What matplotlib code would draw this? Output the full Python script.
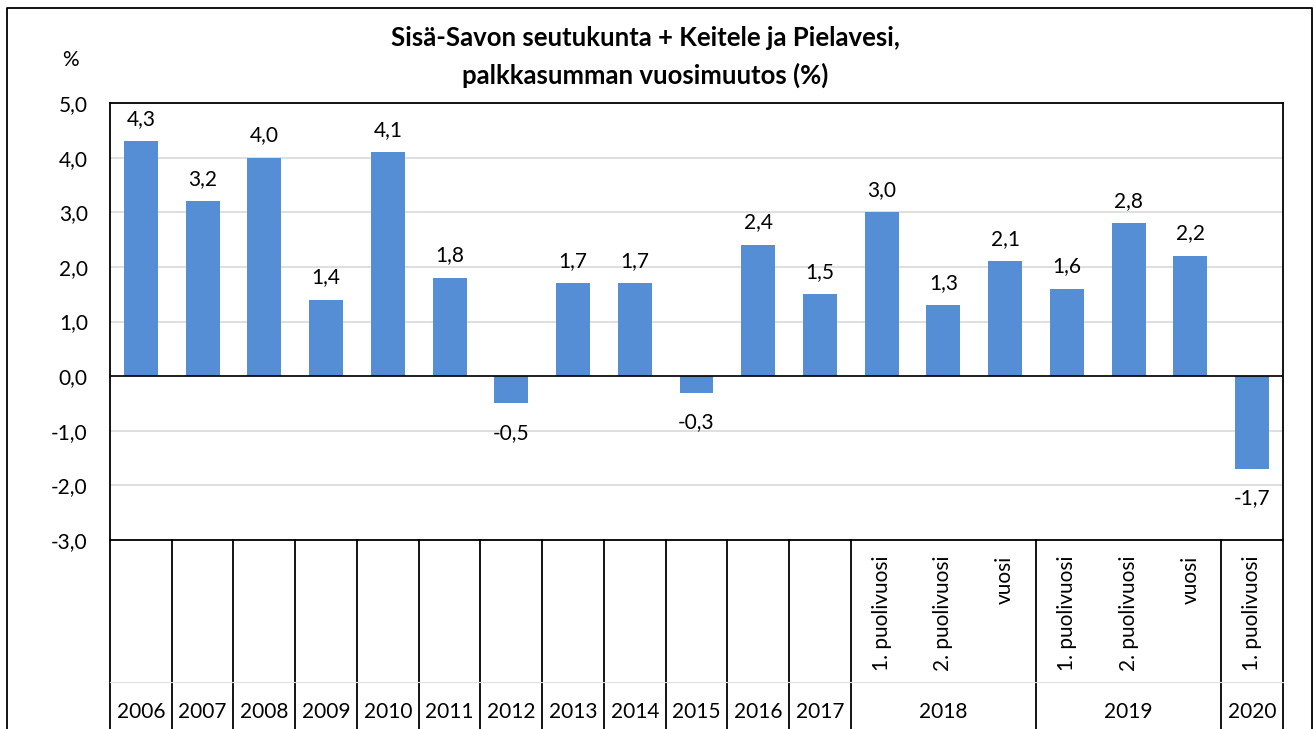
import matplotlib.pyplot as plt
import matplotlib.transforms as mtransforms
from matplotlib.lines import Line2D

plt.rcParams['font.family'] = ['Lato', 'DejaVu Sans']

# Data
vuodet = ['2006', '2007', '2008', '2009', '2010', '2011', '2012', '2013',
          '2014', '2015', '2016', '2017']
ryhmat = [('2018', ['1. puolivuosi', '2. puolivuosi', 'vuosi']),
          ('2019', ['1. puolivuosi', '2. puolivuosi', 'vuosi']),
          ('2020', ['1. puolivuosi'])]
arvot = [4.3, 3.2, 4.0, 1.4, 4.1, 1.8, -0.5, 1.7, 1.7, -0.3, 2.4, 1.5,
         3.0, 1.3, 2.1, 1.6, 2.8, 2.2, -1.7]
y_ticks = [5, 4, 3, 2, 1, 0, -1, -2, -3]

W, H = 1314, 729
fig = plt.figure(figsize=(W / 100, H / 100), dpi=100)

def fx(px):
    return px / W

def fy(py):
    return 1 - py / H

fs = 15
left, right, top, bottom = 110, 1283, 103, 540
ax = fig.add_axes([fx(left), fy(bottom), fx(right - left), (bottom - top) / H])

n = len(arvot)
x = list(range(n))
ax.bar(x, arvot, width=0.55, color='#558ED5', zorder=3)
ax.set_xlim(-0.5, n - 0.5)
ax.set_ylim(-3, 5)
ax.set_yticks(y_ticks)
ax.set_yticklabels([f'{v:.1f}'.replace('.', ',') for v in y_ticks], fontsize=fs)
ax.tick_params(axis='y', length=0, pad=16)
ax.set_xticks([])
ax.grid(axis='y', color='#d9d9d9', linewidth=1.2, zorder=0)
ax.axhline(0, color='black', linewidth=1.2, zorder=4)
for s in ax.spines.values():
    s.set_linewidth(1.3)
    s.set_color('black')

for xi, v in zip(x, arvot):
    teksti = f'{v:.1f}'.replace('.', ',')
    if v >= 0:
        ax.annotate(teksti, (xi, v), xytext=(0, 9), textcoords='offset points',
                    ha='center', va='bottom', fontsize=fs)
    else:
        ax.annotate(teksti, (xi, v), xytext=(0, -14), textcoords='offset points',
                    ha='center', va='top', fontsize=fs)

# category axis below the plot
tr = mtransforms.blended_transform_factory(ax.transData, fig.transFigure)
y_ala = fy(bottom)
y_vuosi = fy(712)
y_ylä = fy(556)

rajat = [i - 0.5 for i in range(len(vuodet) + 1)]
i = len(vuodet)
for nimi, osat in ryhmat:
    for j, osa in enumerate(osat):
        ax.text(i + j, y_ylä, osa, transform=tr, rotation=90, ha='center',
                va='top', fontsize=fs, clip_on=False)
    ax.text(i + (len(osat) - 1) / 2, y_vuosi, nimi, transform=tr, ha='center',
            va='center', fontsize=fs, clip_on=False)
    i += len(osat)
    rajat.append(i - 0.5)

for xi, v in enumerate(vuodet):
    ax.text(xi, y_vuosi, v, transform=tr, ha='center', va='center',
            fontsize=fs, clip_on=False)

for r in rajat:
    ax.add_line(Line2D([r, r], [0, y_ala], transform=tr, color='black',
                       linewidth=1.3, clip_on=False))
ax.add_line(Line2D([-0.5, n - 0.5], [fy(682), fy(682)], transform=tr,
                   color='#e0e0e0', linewidth=0.8, clip_on=False))

# outer frame
fig.add_artist(Line2D([fx(7), fx(7), fx(1312), fx(1312)], [0, fy(8), fy(8), 0],
                      transform=fig.transFigure, color='black', linewidth=1.3))

fig.text(fx(645), fy(38), 'Sisä-Savon seutukunta + Keitele ja Pielavesi,',
         ha='center', va='center', fontsize=18.5, fontweight='bold')
fig.text(fx(645), fy(75), 'palkkasumman vuosimuutos (%)',
         ha='center', va='center', fontsize=18.5, fontweight='bold')
fig.text(fx(70), fy(60), '%', ha='center', va='center', fontsize=fs)

fig.savefig('out.png', dpi=100)
